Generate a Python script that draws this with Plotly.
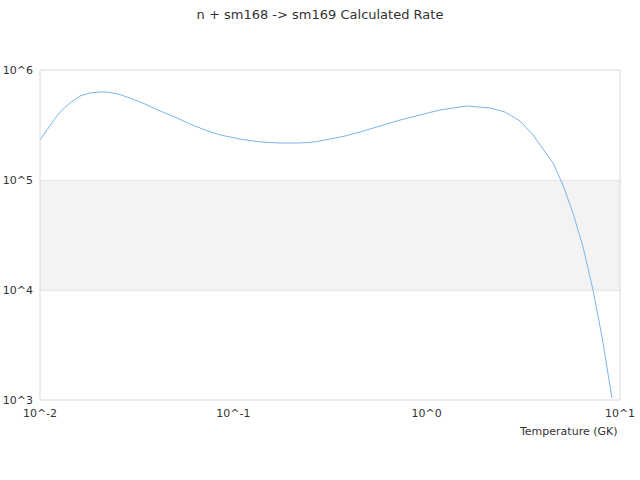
import plotly.graph_objects as go

temperature_gk = [0.01, 0.011, 0.012, 0.013, 0.0143, 0.0161, 0.0181, 0.0204, 0.0222, 0.0253,
                  0.0292, 0.0349, 0.0418, 0.0499, 0.0597, 0.0714, 0.0853, 0.108, 0.137, 0.174,
                  0.221, 0.265, 0.316, 0.378, 0.452, 0.574, 0.728, 0.924, 1.17, 1.62,
                  2.13, 2.54, 3.04, 3.55, 3.86, 4.50, 5.07, 5.71, 6.44, 7.25, 8.07, 9.09]
rate = [2.31e5, 2.97e5, 3.66e5, 4.33e5, 5.01e5, 5.80e5, 6.18e5, 6.31e5, 6.31e5, 6.05e5,
        5.57e5, 4.91e5, 4.24e5, 3.74e5, 3.23e5, 2.85e5, 2.57e5, 2.36e5, 2.22e5, 2.17e5,
        2.17e5, 2.22e5, 2.36e5, 2.51e5, 2.73e5, 3.10e5, 3.51e5, 3.90e5, 4.33e5, 4.71e5,
        4.51e5, 4.15e5, 3.44e5, 2.57e5, 2.08e5, 1.43e5, 9.01e4, 5.01e4, 2.46e4, 1.0e4,
        3.74e3, 1.04e3]

x_tick_vals = [0.01, 0.1, 1, 10]
x_tick_text = ["10^-2", "10^-1", "10^0", "10^1"]
y_tick_vals = [1e3, 1e4, 1e5, 1e6]
y_tick_text = ["10^3", "10^4", "10^5", "10^6"]

font = "DejaVu Sans, Lucida Grande, sans-serif"

fig = go.Figure()
fig.add_trace(go.Scatter(x=temperature_gk, y=rate, mode="lines",
                         line=dict(color="#7cb5ec", width=1), showlegend=False))

W, H = 640, 480
fig.update_layout(
    width=W, height=H,
    margin=dict(l=40, r=20, t=70, b=80, autoexpand=False),
    paper_bgcolor="white", plot_bgcolor="white",
    font=dict(family=font, size=11, color="#333333"),
    title=dict(text="n + sm168 -> sm169 Calculated Rate", x=0.5, xanchor="center",
               y=1 - 14.5 / H, yanchor="middle", yref="container",
               font=dict(family=font, size=13, color="#333333")),
    xaxis=dict(type="log", range=[-2, 1], tickvals=x_tick_vals, ticktext=x_tick_text,
               showgrid=False, zeroline=False, showline=False, ticks="", automargin=False,
               ticklabelstandoff=5,
               tickfont=dict(size=11, color="#333333")),
    yaxis=dict(type="log", range=[3, 6], tickvals=y_tick_vals, ticktext=y_tick_text,
               showgrid=True, gridcolor="#e6e6e6", gridwidth=1, zeroline=False,
               showline=False, ticks="", ticklabelstandoff=6, automargin=False,
               tickfont=dict(size=11, color="#333333")),
    shapes=[
        dict(type="rect", xref="paper", yref="y domain", x0=0, x1=1, y0=1/3, y1=2/3,
             fillcolor="#f3f3f3", line=dict(width=0), layer="below"),
        dict(type="rect", xref="paper", yref="paper", x0=0, x1=1, y0=0, y1=1,
             line=dict(color="#d8d8d8", width=1), fillcolor="rgba(0,0,0,0)", layer="above"),
    ],
    annotations=[
        dict(text="Temperature (GK)", xref="paper", yref="paper", x=1, y=-31 / 330,
             xanchor="right", yanchor="middle", showarrow=False,
             font=dict(family=font, size=11, color="#333333")),
    ],
)

fig.write_html("out.html", config={"displayModeBar": False},
               post_script="document.body.style.margin='0';document.body.style.overflow='hidden';")
